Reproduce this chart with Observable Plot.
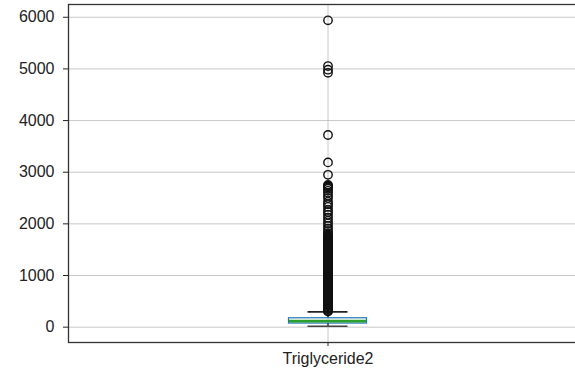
<!DOCTYPE html>
<html>
<head>
<meta charset="utf-8">
<script src="https://cdn.jsdelivr.net/npm/d3@7"></script>
<script src="https://cdn.jsdelivr.net/npm/@observablehq/plot@0.6"></script>
<style>
  html, body { margin: 0; padding: 0; background: #fff; overflow: hidden; width: 575px; height: 372px; }
  #chart { width: 575px; height: 372px; overflow: hidden; }
  #chart svg { display: block; max-width: none !important; }
</style>
</head>
<body>
<div id="chart"></div>
<script>
// ---- data ----
const category = "Triglyceride2";
const yTicks = [0, 1000, 2000, 3000, 4000, 5000, 6000];
// box statistics: whiskerLow, Q1, median, Q3, whiskerHigh
const whiskerLow = 18;
const q1 = 70;
const median = 116;
const q3 = 172;
const whiskerHigh = 296;
// outliers (fliers)
const outliers = [
  5940, 5055, 4985, 4925, 3720, 3190, 2950,
  2755, 2740, 2725, 2705, 2680, 2640, 2600, 2545, 2500, 2430, 2380, 2330,
  2270, 2230, 2175, 2120, 2060, 2010, 1960, 1905, 1860, 1820, 1790, 1770,
  1752, 1735, 1716, 1698, 1680, 1662, 1645, 1627, 1610, 1592, 1575, 1557,
  1540, 1522, 1505, 1487, 1470, 1452, 1435, 1417, 1400, 1382, 1365, 1347,
  1330, 1312, 1295, 1277, 1260, 1242, 1225, 1207, 1190, 1172, 1155, 1137,
  1120, 1102, 1085, 1067, 1050, 1032, 1015, 997, 980, 962, 945, 927, 910,
  892, 875, 857, 840, 822, 805, 787, 770, 752, 735, 717, 700, 682, 665,
  647, 630, 612, 595, 577, 560, 542, 525, 507, 490, 472, 455, 437, 420,
  402, 385, 367, 350, 332, 315, 302
];

// ---- chart ----
const W = 590, H = 372;
const mL = 68, mR = 3, mT = 4, mB = 30;
const plotW = W - mL - mR;
const boxW = 78, capW = 40;
const boxInset = (plotW - boxW) / 2;
const capInset = (plotW - capW) / 2;

const boxRow = [{cat: category, q1, median, q3, whiskerLow, whiskerHigh}];
const fliers = outliers.map(v => ({cat: category, v}));

const chart = Plot.plot({
  width: W,
  height: H,
  marginLeft: mL,
  marginRight: mR,
  marginTop: mT,
  marginBottom: mB,
  style: {fontFamily: "'Liberation Sans', Arial, sans-serif", fontSize: "16px", color: "#222", background: "#fff", maxWidth: "none"},
  x: {type: "band", domain: [category], padding: 0, label: null, tickSize: 4, tickPadding: 6},
  y: {domain: [-297, 6247], ticks: yTicks, tickFormat: d => String(d), label: null, tickSize: 5, tickPadding: 9},
  marks: [
    Plot.gridY(yTicks, {stroke: "#b0b0b0", strokeOpacity: 0.7, strokeWidth: 1}),
    Plot.gridX([category], {stroke: "#b0b0b0", strokeOpacity: 0.7, strokeWidth: 1}),
    // whiskers
    Plot.ruleX(boxRow, {x: "cat", y1: "q3", y2: "whiskerHigh", stroke: "#111", strokeWidth: 1.3}),
    Plot.ruleX(boxRow, {x: "cat", y1: "whiskerLow", y2: "q1", stroke: "#111", strokeWidth: 1.3}),
    Plot.tickY(boxRow, {x: "cat", y: "whiskerHigh", stroke: "#222", strokeWidth: 1.6, insetLeft: capInset, insetRight: capInset}),
    Plot.tickY(boxRow, {x: "cat", y: "whiskerLow", stroke: "#444", strokeWidth: 1.6, insetLeft: capInset, insetRight: capInset}),
    // box
    Plot.barY(boxRow, {x: "cat", y1: "q1", y2: "q3", fill: "none", stroke: "#1f77b4", strokeWidth: 1.2, insetLeft: boxInset, insetRight: boxInset}),
    Plot.tickY(boxRow, {x: "cat", y: "median", stroke: "#2ca02c", strokeWidth: 2.6, insetLeft: boxInset + 0.5, insetRight: boxInset + 0.5}),
    // outliers
    Plot.dot(fliers, {x: "cat", y: "v", r: 4.2, stroke: "#111", strokeWidth: 1.4, fill: "none"}),
    // frame (top, left, bottom; right edge lies beyond the window)
    Plot.frame({stroke: "#333", strokeWidth: 1.3})
  ]
});
document.getElementById("chart").appendChild(chart);
</script>
</body>
</html>
